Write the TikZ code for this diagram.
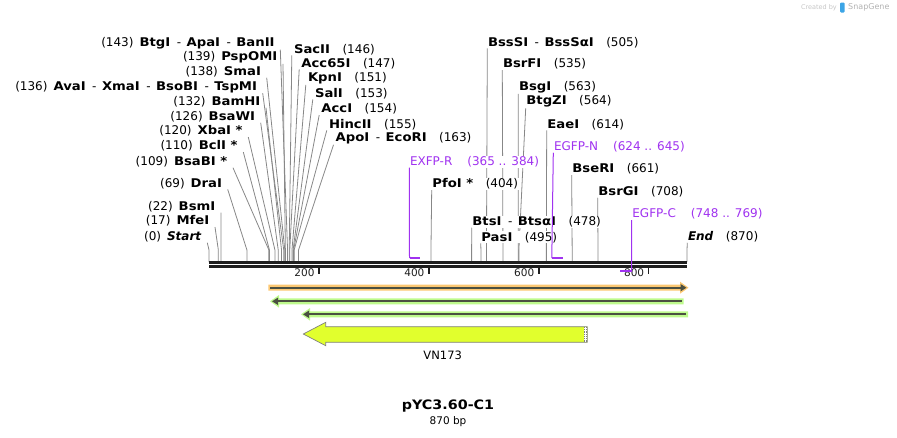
\documentclass[tikz,border=0pt]{standalone}
\usepackage{fontspec}
\setmainfont{DejaVu Sans}[BoldFeatures={FakeStretch=1.1}]
\usetikzlibrary{arrows.meta,backgrounds}
\definecolor{primer}{RGB}{160,50,240}
\definecolor{cutline}{RGB}{135,135,135}
\definecolor{dnaline}{RGB}{30,30,30}
\definecolor{orangeband}{RGB}{252,200,115}
\definecolor{greenband}{RGB}{190,250,140}
\definecolor{vnfill}{RGB}{225,255,45}
\definecolor{featline}{RGB}{75,80,65}
\definecolor{snapblue}{RGB}{60,165,230}
\newcommand{\enzsep}{\hspace{6.5pt}-\hspace{5.5pt}}
\newcommand{\enzgap}{\hspace{12.5pt}}
\begin{document}
\begin{tikzpicture}
  [x=1pt, y=-1pt,
   enz/.style={inner sep=0.5pt, fill=white, font=\fontsize{12}{13}\selectfont},
   prm/.style={enz, text=primer},
   cut/.style={cutline, line width=0.8pt},
   prmline/.style={primer, line width=1pt},
   prmbar/.style={primer, line width=2pt},
   dna/.style={dnaline, line width=2.6pt},
   tick/.style={dnaline, line width=1.8pt},
   arrline/.style={featline, line width=2.2pt, -{Triangle[length=6pt,width=7pt]}}]
  \useasboundingbox (0,0) rectangle (897,437);
  \coordinate (seq) at (0,262);
  \foreach \p in {0,17,22,69,109,110,120,126,132,136,138,139,143,146,147,151,153,154,155,163,404,478,495,505,535,563,564,614,661,708,870}
    \coordinate (c\p) at ({209+0.54943*\p},250);

  \node[enz, anchor=east] (l143) at (275.3,43) {(143)\hspace{6pt}\textbf{BtgI}\enzsep\textbf{ApaI}\enzsep\textbf{BanII}};
  \node[enz, anchor=east] (l139) at (278,57.3) {(139)\hspace{6pt}\textbf{PspOMI}};
  \node[enz, anchor=east] (l138) at (261.7,71.7) {(138)\hspace{6pt}\textbf{SmaI}};
  \node[enz, anchor=east] (l136) at (257.7,86.7) {(136)\hspace{6pt}\textbf{AvaI}\enzsep\textbf{XmaI}\enzsep\textbf{BsoBI}\enzsep\textbf{TspMI}};
  \node[enz, anchor=east] (l132) at (261,101.7) {(132)\hspace{6pt}\textbf{BamHI}};
  \node[enz, anchor=east] (l126) at (255.7,116.7) {(126)\hspace{6pt}\textbf{BsaWI}};
  \node[enz, anchor=east] (l120) at (243.3,131) {(120)\hspace{6pt}\textbf{XbaI *}};
  \node[enz, anchor=east] (l110) at (238.3,146) {(110)\hspace{6pt}\textbf{BclI *}};
  \node[enz, anchor=east] (l109) at (228,161.7) {(109)\hspace{6pt}\textbf{BsaBI *}};
  \node[enz, anchor=east] (l69) at (222.7,183.3) {(69)\hspace{6pt}\textbf{DraI}};
  \node[enz, anchor=east] (l22) at (216,206.7) {(22)\hspace{6pt}\textbf{BsmI}};
  \node[enz, anchor=east] (l17) at (210,221) {(17)\hspace{6pt}\textbf{MfeI}};
  \node[enz, anchor=east] (l0) at (202.3,236.7) {(0)\hspace{6pt}\textbf{\textit{Start}}};

  \node[enz, anchor=west] (r146) at (293.3,49.3) {\textbf{SacII}\enzgap(146)};
  \node[enz, anchor=west] (r147) at (300.7,63.3) {\textbf{Acc65I}\enzgap(147)};
  \node[enz, anchor=west] (r151) at (307.3,78.3) {\textbf{KpnI}\enzgap(151)};
  \node[enz, anchor=west] (r153) at (314.3,93.3) {\textbf{SalI}\enzgap(153)};
  \node[enz, anchor=west] (r154) at (320.7,109) {\textbf{AccI}\enzgap(154)};
  \node[enz, anchor=west] (r155) at (328.3,124.3) {\textbf{HincII}\enzgap(155)};
  \node[enz, anchor=west] (r163) at (335,138.3) {\textbf{ApoI}\enzsep\textbf{EcoRI}\enzgap(163)};

  \node[enz, anchor=west] (r505) at (487.3,42.3) {\textbf{BssSI}\enzsep\textbf{BssSαI}\enzgap(505)};
  \node[enz, anchor=west] (r535) at (502.3,64) {\textbf{BsrFI}\enzgap(535)};
  \node[enz, anchor=west] (r563) at (518.3,87.3) {\textbf{BsgI}\enzgap(563)};
  \node[enz, anchor=west] (r564) at (525.7,101.7) {\textbf{BtgZI}\enzgap(564)};
  \node[enz, anchor=west] (r614) at (546.7,124.3) {\textbf{EaeI}\enzgap(614)};
  \node[prm, anchor=west] (pEGFPN) at (553.3,146.7) {EGFP-N\hspace{15pt}(624 .. 645)};
  \node[prm, anchor=west] (pEXFPR) at (409.3,161.7) {EXFP-R\hspace{15pt}(365 .. 384)};
  \node[enz, anchor=west] (r661) at (571.7,169) {\textbf{BseRI}\enzgap(661)};
  \node[enz, anchor=west] (r404) at (431.7,184) {\textbf{PfoI *}\enzgap(404)};
  \node[enz, anchor=west] (r708) at (597.7,191.7) {\textbf{BsrGI}\enzgap(708)};
  \node[prm, anchor=west] (pEGFPC) at (631.7,214) {EGFP-C\hspace{15pt}(748 .. 769)};
  \node[enz, anchor=west] (r478) at (471.7,221.7) {\textbf{BtsI}\enzsep\textbf{BtsαI}\enzgap(478)};
  \node[enz, anchor=west] (r495) at (480.7,237.3) {\textbf{PasI}\enzgap(495)};
  \node[enz, anchor=west] (r870) at (687.3,236.7) {\textbf{\textit{End}}\enzgap(870)};

  \begin{pgfonlayer}{background}
    \foreach \p in {0,17,22,69,109,110,120,126,132,136,138,139,143}
      \draw[cut] ([xshift=5pt]l\p.south east) -- (c\p) -- (c\p |- seq);
    \foreach \p in {146,147,151,153,154,155,163}
      \draw[cut] ([xshift=-1.5pt]r\p.south west) -- (c\p) -- (c\p |- seq);
    \foreach \p in {404,478,495,505,535,563,564,614,661,708,870}
      \draw[cut] (r\p.south west) -- (c\p) -- (c\p |- seq);
  \end{pgfonlayer}

  \draw[dna] (209,262.3) -- (687,262.3);
  \draw[dna] (209,266.3) -- (687,266.3);
  \foreach \t in {200,400,600,800}
    \draw[tick] ({209+0.54943*\t},267) -- +(0,6.5)
      node[anchor=east, inner sep=0pt, xshift=-3.5pt, yshift=1pt,
           font=\fontsize{10.5}{12}\selectfont] (t\t) {\t};

  \coordinate (p365) at (409.5,258);
  \coordinate (p384) at (420,258);
  \coordinate (p624) at (551.8,258);
  \coordinate (p645) at (563.4,258);
  \coordinate (p748) at (620,270.7);
  \coordinate (p769) at (631.5,270.7);
  \draw[prmline] (pEXFPR.south west) -- (p365);
  \draw[prmbar] (p365) -- (p384);
  \draw[prmline] (pEGFPN.south west) -- (p624);
  \draw[prmbar] (p624) -- (p645);
  \draw[prmline] (pEGFPC.south west) -- ([yshift=-1pt]p769);
  \draw[prmbar] (p748) -- (p769);

  \fill[orangeband] (268.3,284.7) -- (680,284.7) -- (680,281.7) -- (688.5,287.7)
    -- (680,293.7) -- (680,290.7) -- (268.3,290.7) -- cycle;
  \draw[arrline] (270,287.7) -- (686.5,287.7);
  \fill[greenband] (683.5,298.3) -- (279,298.3) -- (279,295) -- (270,301.3)
    -- (279,307.6) -- (279,304.3) -- (683.5,304.3) -- cycle;
  \draw[arrline] (681.7,301.3) -- (272,301.3);
  \fill[greenband] (688,311.3) -- (310,311.3) -- (310,308) -- (301,314.3)
    -- (310,320.6) -- (310,317.3) -- (688,317.3) -- cycle;
  \draw[arrline] (686,314.3) -- (303,314.3);

  \draw[fill=vnfill, draw=gray, line width=0.7pt] (303.3,334) -- (325.7,322.3) -- (325.7,326.7)
    -- (587.3,326.7) -- (587.3,342.3) -- (325.7,342.3) -- (325.7,345.7) -- cycle;
  \fill[white] (583.6,327) rectangle (587,342);
  \draw[gray, densely dotted, line width=0.8pt] (584.3,327) -- (584.3,342);
  \draw[gray, densely dotted, line width=0.8pt] (586.3,327) -- (586.3,342);
  \node[font=\fontsize{11.5}{13}\selectfont] (vn) at (442.7,355) {VN173};

  \node[font=\bfseries\fontsize{13}{15}\selectfont] (title) at (448,406) {pYC3.60-C1};
  \node[font=\fontsize{10.5}{12}\selectfont] (len) at (448,421.7) {870 bp};

  \node[anchor=east, inner sep=0pt, text=gray!45, font=\fontsize{6.5}{8}\selectfont] (made) at (837,7.3) {Created by};
  \fill[snapblue, rounded corners=1pt] (840,2.5) rectangle (844.5,12.5);
  \node[anchor=west, inner sep=0pt, text=gray!60, font=\fontsize{8}{9}\selectfont] (snap) at (848,7.3) {SnapGene};
\end{tikzpicture}
\end{document}
